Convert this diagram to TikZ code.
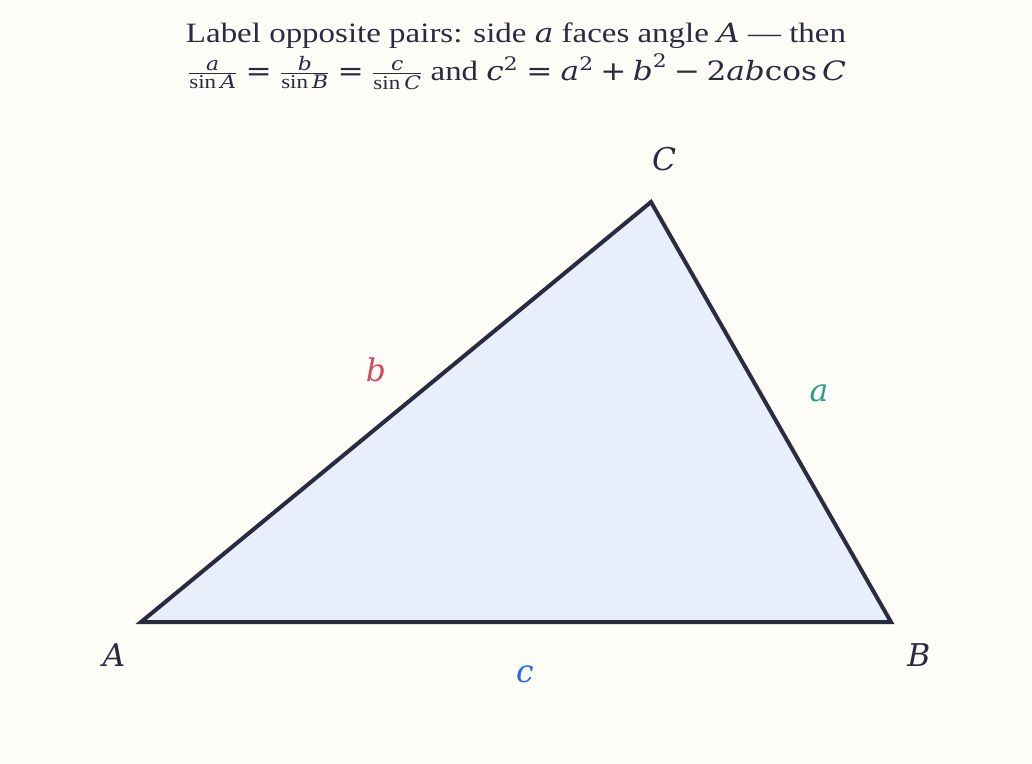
\documentclass[tikz,border=0pt]{standalone}
\usepackage{amsmath}
\usepackage{graphicx}
\usepackage{fontspec}
\setmainfont{Liberation Serif}
\newfontfamily\mi{DejaVu Serif}[Scale=0.95]
\newfontfamily\mr{DejaVu Serif}[Scale=0.95]
\newfontfamily\dv{DejaVu Sans}[Scale=0.95]
\newcommand{\vv}[1]{\text{\mi\itshape #1}}
\newcommand{\vr}[1]{\text{\mr #1}}
\newcommand{\op}[1]{\mathbin{\text{\dv #1}}}
\newcommand{\eqq}{\mathrel{\text{\dv =}}}
\definecolor{bgc}{HTML}{FEFDF8}
\definecolor{ink}{HTML}{2A2B40}
\definecolor{tri}{HTML}{E8EEFA}
\definecolor{cola}{HTML}{2A9D8F}
\definecolor{colb}{HTML}{D1495B}
\definecolor{colc}{HTML}{1F6FEB}
\tikzset{
  vlab/.style={font=\fontsize{33}{36}\selectfont\mi\itshape, text=ink, inner sep=0pt},
  slab/.style={font=\fontsize{33}{36}\selectfont\mi\itshape, inner sep=0pt},
  title/.style={font=\fontsize{28}{30}\selectfont, text=ink, inner sep=0pt, align=center},
}
\begin{document}
\begin{tikzpicture}[x=1pt,y=-1pt]
\fill[bgc] (0,0) rectangle (1032,763);
\useasboundingbox (0,0) rectangle (1032,763);
\coordinate (A) at (141,622);
\coordinate (B) at (891,622);
\coordinate (C) at (651,202);
\filldraw[fill=tri, draw=ink, line width=4pt, line join=miter] (A) -- (B) -- (C) -- cycle;
\node[vlab] (lA) at (114,655) {A};
\node[vlab] (lB) at (919,655) {B};
\node[vlab] (lC) at (664,159) {C};
\node[slab, text=colb] (lb) at (376,370) {b};
\node[slab, text=cola] (la) at (819,393) {a};
\node[slab, text=colc] (lc) at (525,674) {c};
\node[title, anchor=base] (t1) at (516,42) {\resizebox{660pt}{\height}{Label opposite pairs: side $\vv{a}$ faces angle $\vv{A}$ --- then}};
\node[title, anchor=base] (t2) at (517,80) {\resizebox{658pt}{\height}{$\frac{\vv{a}}{\text{sin}\,\vv{A}}\eqq\frac{\vv{b}}{\text{sin}\,\vv{B}}\eqq\frac{\vv{c}}{\text{sin}\,\vv{C}}$ and $\vv{c}^{\vr{2}}\eqq\vv{a}^{\vr{2}}\op{+}\vv{b}^{\vr{2}}\op{−}\vr{2}\vv{ab}\vr{cos}\,\vv{C}$}};
\end{tikzpicture}
\end{document}
